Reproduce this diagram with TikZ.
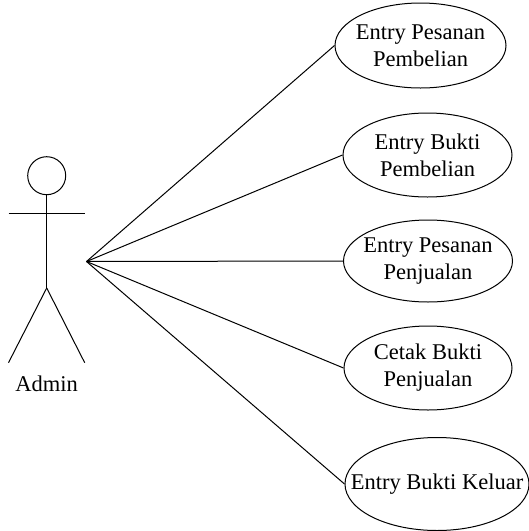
\documentclass[tikz,border=0pt]{standalone}
\usepackage{fontspec}
\setmainfont{Liberation Serif}
\usetikzlibrary{shapes.geometric}
\tikzset{usecase/.style={draw,ellipse,line width=1pt,inner sep=0pt},
 uclabel/.style={font=\fontsize{22.5}{27}\selectfont,align=center,inner sep=0pt},
 line/.style={line width=1pt}}
\begin{document}
\begin{tikzpicture}[x=1pt,y=-1pt,line width=1pt]
\useasboundingbox (0,0) rectangle (529,531);
\node[usecase,minimum width=171,minimum height=85,label={[uclabel]center:{Entry Pesanan\\Pembelian}}] (a) at (420.5,45.5) {};
\node[usecase,minimum width=169,minimum height=84,label={[uclabel]center:{Entry Bukti\\Pembelian}}] (b) at (427.5,155) {};
\node[usecase,minimum width=169,minimum height=82,label={[uclabel]center:{Entry Pesanan\\Penjualan}}] (c) at (428,261) {};
\node[usecase,minimum width=168,minimum height=84,label={[uclabel]center:{Cetak Bukti\\Penjualan}}] (d) at (428,368) {};
\node[usecase,minimum width=184,minimum height=93,label={[uclabel]center:{Entry Bukti Keluar}}] (e) at (437,484) {};
\coordinate (h) at (86.5,261.5);
\draw[line] (h) -- (a.west);
\draw[line] (h) -- (b.west);
\draw[line] (h) -- (c.west);
\draw[line] (h) -- (d.west);
\draw[line] (h) -- (e.west);
\node[draw,circle,minimum size=38,inner sep=0pt] (head) at (46.7,175.7) {};
\coordinate (hip) at (46.7,288);
\coordinate (al) at (8.5,213);
\coordinate (ar) at (84.7,213);
\coordinate (fl) at (8.5,362.7);
\coordinate (fr) at (84.7,362.7);
\draw[line] (head.south) -- (hip);
\draw[line] (al) -- (ar);
\draw[line] (hip) -- (fl);
\draw[line] (hip) -- (fr);
\node[font=\fontsize{22.5}{27}\selectfont] (admin) at (46.7,384) {Admin};
\end{tikzpicture}
\end{document}
